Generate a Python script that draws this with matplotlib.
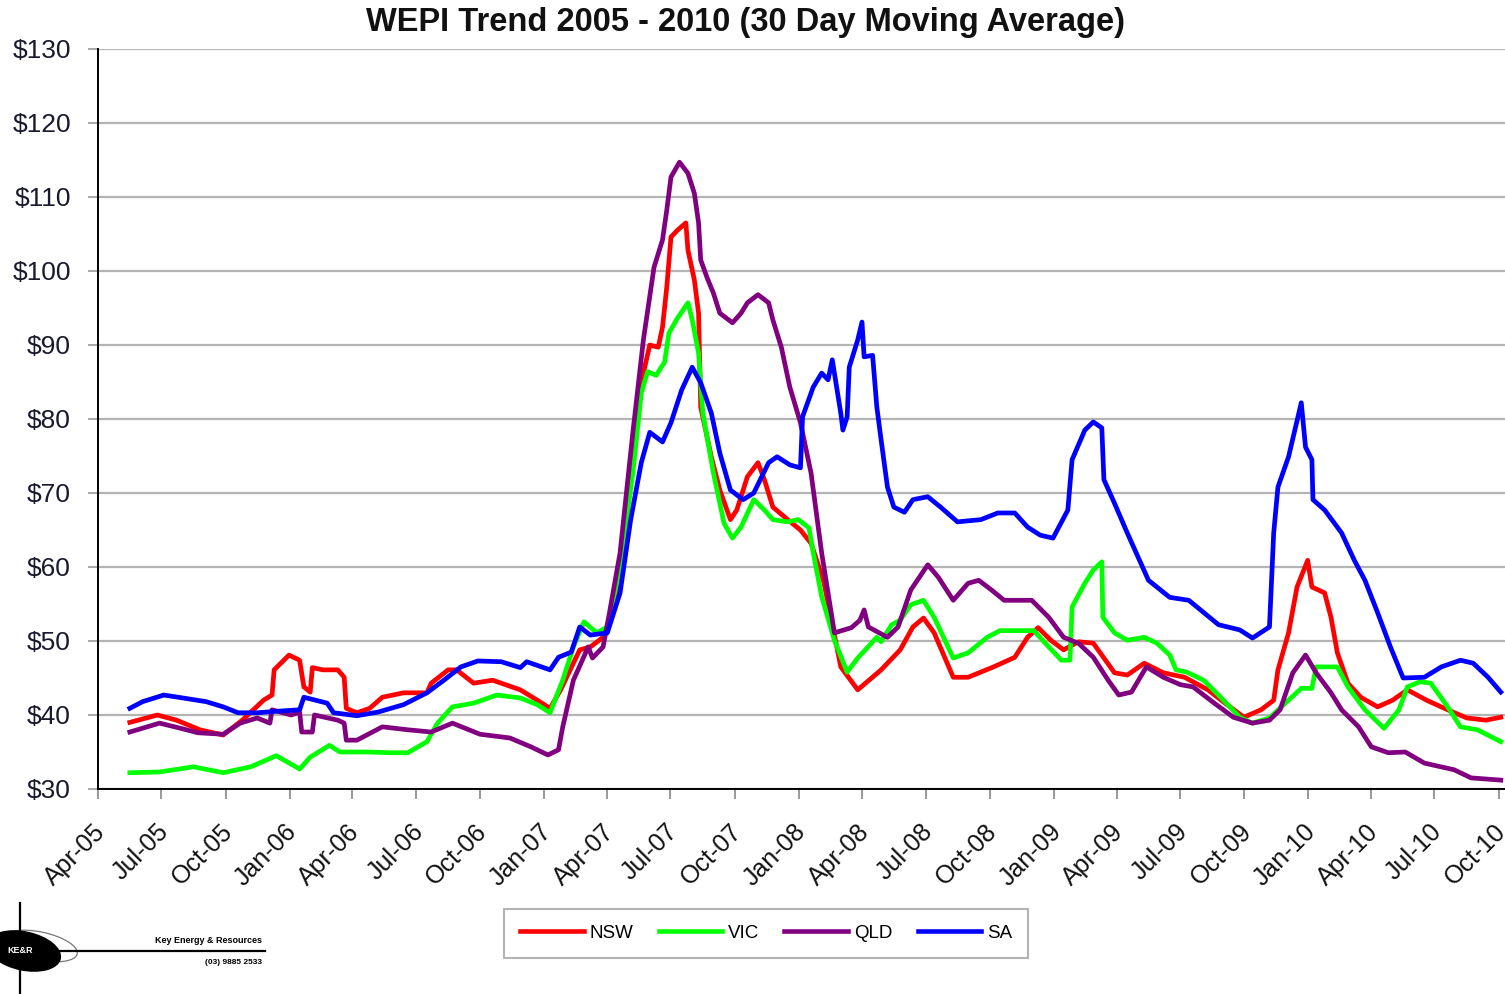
import pandas as pd
import matplotlib
matplotlib.use('Agg')
import matplotlib.pyplot as plt
import matplotlib.dates as mdates
import matplotlib.transforms as mtransforms
from matplotlib.patches import Ellipse
from matplotlib.lines import Line2D

plt.rcParams['font.family'] = ['Liberation Sans', 'DejaVu Sans']

# months after 1 Apr 2005 and 30 day moving average price ($/MWh)
nsw_m = [1.5, 2.8, 3.7, 4.8, 5.9, 6.8, 7.8, 8.2, 8.3, 9.0,
         9.5, 9.7, 10.0, 10.1, 10.6, 11.3, 11.6, 11.7, 12.2, 12.8,
         13.4, 14.4, 15.5, 15.7, 16.5, 16.9, 17.7, 18.6, 19.9, 20.7,
         21.3, 21.8, 22.7, 23.2, 23.8, 24.5, 25.0, 25.7, 26.0, 26.4,
         26.6, 26.8, 27.0, 27.3, 27.7, 27.8, 28.1, 28.3, 28.4, 28.9,
         29.3, 29.8, 30.1, 30.6, 31.1, 31.4, 31.8, 32.5, 33.1, 33.6,
         34.2, 35.0, 35.8, 36.9, 37.8, 38.4, 38.9, 39.4, 40.3, 41.0,
         42.2, 43.2, 43.8, 44.3, 44.9, 45.5, 46.2, 46.9, 47.9, 48.5,
         49.3, 50.2, 51.2, 52.3, 53.2, 54.0, 54.8, 55.4, 55.6, 56.1,
         56.5, 57.0, 57.2, 57.8, 58.1, 58.4, 58.9, 59.5, 60.3, 61.0,
         61.7, 62.6, 63.6, 64.5, 65.4, 66.1]
nsw_v = [39.0, 40.0, 39.3, 38.0, 37.3, 39.3, 42.0, 42.7, 46.1, 48.1,
         47.4, 43.8, 43.1, 46.4, 46.1, 46.1, 45.1, 40.9, 40.3, 40.9,
         42.4, 43.0, 43.0, 44.3, 46.1, 46.1, 44.3, 44.7, 43.4, 42.0,
         40.9, 43.4, 48.8, 49.2, 50.5, 56.0, 72.0, 86.2, 90.0, 89.7,
         92.4, 97.8, 104.6, 105.5, 106.5, 102.8, 98.8, 94.3, 81.6, 74.9,
         70.4, 66.4, 67.7, 72.2, 74.1, 71.8, 68.1, 66.4, 65.0, 63.2,
         58.0, 46.5, 43.4, 46.1, 48.8, 51.9, 53.1, 51.1, 45.1, 45.1,
         46.5, 47.8, 50.5, 51.8, 50.1, 48.8, 49.9, 49.7, 45.7, 45.4,
         47.0, 45.7, 45.1, 43.4, 41.4, 39.7, 40.7, 42.0, 46.1, 51.1,
         57.3, 60.9, 57.3, 56.5, 53.2, 48.4, 44.3, 42.4, 41.1, 42.0,
         43.4, 42.0, 40.7, 39.6, 39.3, 39.7]

vic_m = [1.5, 2.9, 4.5, 5.9, 7.2, 8.4, 9.5, 10.0, 10.9, 11.4,
         12.7, 13.8, 14.6, 15.5, 16.0, 16.7, 17.7, 18.8, 19.9, 20.7,
         21.3, 21.9, 22.4, 22.9, 23.5, 24.0, 24.6, 25.2, 25.6, 25.9,
         26.3, 26.7, 26.9, 27.3, 27.8, 28.0, 28.3, 28.5, 29.0, 29.5,
         29.9, 30.3, 30.9, 31.4, 31.8, 32.5, 33.0, 33.5, 33.7, 34.1,
         34.7, 35.3, 35.8, 36.7, 36.9, 37.4, 37.8, 38.3, 38.9, 39.4,
         40.3, 41.0, 41.9, 42.5, 44.1, 44.8, 45.4, 45.8, 45.9, 46.5,
         46.9, 47.3, 47.35, 47.9, 48.5, 49.3, 49.9, 50.5, 50.8, 51.3,
         52.1, 52.9, 53.8, 54.4, 55.2, 56.1, 56.7, 57.2, 57.4, 58.4,
         58.9, 59.7, 60.6, 61.3, 61.7, 62.3, 62.8, 63.6, 64.2, 65.0,
         66.1]
vic_v = [32.2, 32.3, 33.0, 32.2, 33.0, 34.5, 32.7, 34.3, 35.9, 35.0,
         35.0, 34.9, 34.9, 36.4, 38.9, 41.1, 41.6, 42.7, 42.3, 41.4,
         40.3, 44.7, 49.2, 52.6, 51.1, 51.9, 60.0, 72.7, 83.5, 86.4,
         85.9, 87.7, 91.6, 93.6, 95.7, 93.4, 88.9, 80.8, 72.7, 65.9,
         63.9, 65.4, 69.1, 67.7, 66.4, 66.1, 66.4, 65.3, 62.0, 56.0,
         50.1, 45.8, 47.7, 50.5, 49.9, 52.2, 52.8, 54.9, 55.5, 53.2,
         47.7, 48.4, 50.5, 51.4, 51.4, 49.2, 47.4, 47.4, 54.6, 57.8,
         59.6, 60.7, 53.2, 51.1, 50.1, 50.5, 49.7, 48.1, 46.1, 45.8,
         44.7, 42.4, 39.7, 38.9, 39.6, 42.0, 43.6, 43.6, 46.5, 46.5,
         43.8, 40.7, 38.2, 40.7, 43.8, 44.5, 44.3, 41.1, 38.4, 38.0,
         36.4]

qld_m = [1.5, 2.9, 3.9, 4.7, 5.9, 6.7, 7.5, 8.1, 8.2, 9.1,
         9.5, 9.6, 10.1, 10.2, 11.3, 11.6, 11.7, 12.2, 13.4, 14.6,
         15.7, 16.7, 18.0, 19.4, 20.4, 21.2, 21.7, 21.9, 22.4, 23.1,
         23.3, 23.8, 24.1, 24.6, 25.2, 25.7, 26.2, 26.6, 26.8, 27.0,
         27.4, 27.8, 28.1, 28.3, 28.4, 28.7, 29.0, 29.3, 29.9, 30.3,
         30.6, 31.1, 31.6, 31.8, 32.2, 32.6, 33.1, 33.6, 34.1, 34.7,
         35.5, 35.9, 36.1, 36.3, 37.2, 37.7, 38.3, 39.1, 39.6, 40.3,
         41.0, 41.5, 42.1, 42.7, 44.0, 44.8, 45.5, 46.2, 46.9, 47.6,
         48.1, 48.7, 49.4, 50.2, 51.0, 51.6, 52.6, 53.5, 54.4, 55.2,
         55.7, 56.3, 56.9, 57.4, 58.1, 58.6, 59.4, 60.0, 60.8, 61.6,
         62.5, 63.9, 64.7, 66.1]
qld_v = [37.7, 38.9, 38.2, 37.6, 37.4, 38.9, 39.6, 38.9, 40.7, 40.0,
         40.4, 37.7, 37.7, 40.0, 39.3, 38.9, 36.6, 36.6, 38.4, 38.0,
         37.7, 38.9, 37.4, 36.9, 35.7, 34.6, 35.3, 38.4, 44.7, 49.2,
         47.7, 49.2, 53.8, 61.9, 78.1, 90.7, 100.5, 104.2, 108.2, 112.7,
         114.7, 113.2, 110.5, 106.5, 101.5, 99.1, 97.0, 94.3, 93.0, 94.3,
         95.7, 96.8, 95.7, 93.4, 89.7, 84.3, 79.5, 72.7, 61.9, 51.1,
         51.8, 52.8, 54.2, 51.9, 50.5, 51.9, 56.9, 60.3, 58.6, 55.5,
         57.8, 58.2, 56.9, 55.5, 55.5, 53.2, 50.5, 49.7, 47.8, 44.7,
         42.7, 43.1, 46.5, 45.1, 44.1, 43.8, 41.6, 39.7, 38.9, 39.3,
         40.7, 45.7, 48.1, 45.7, 43.0, 40.7, 38.4, 35.7, 34.9, 35.0,
         33.5, 32.6, 31.5, 31.2]

sa_m = [1.5, 2.1, 3.1, 4.0, 5.1, 5.9, 6.6, 7.5, 8.4, 9.5,
        9.7, 10.8, 11.1, 12.2, 13.2, 14.4, 15.5, 16.3, 17.1, 17.9,
        19.0, 19.9, 20.2, 21.3, 21.7, 22.3, 22.7, 23.2, 24.0, 24.6,
        25.1, 25.6, 26.0, 26.6, 27.0, 27.5, 28.0, 28.4, 28.9, 29.3,
        29.8, 30.4, 30.9, 31.6, 32.0, 32.6, 33.1, 33.2, 33.7, 34.1,
        34.4, 34.6, 35.0, 35.1, 35.3, 35.4, 35.8, 36.0, 36.1, 36.5,
        36.7, 36.9, 37.2, 37.5, 38.0, 38.4, 39.1, 39.7, 40.5, 41.6,
        42.4, 43.2, 43.8, 44.4, 45.0, 45.7, 45.9, 46.5, 46.9, 47.3,
        47.4, 47.9, 48.5, 49.5, 50.5, 51.4, 52.8, 53.8, 54.4, 55.2,
        55.4, 55.6, 56.1, 56.7, 56.9, 57.2, 57.25, 57.8, 58.6, 59.2,
        59.7, 60.3, 60.9, 61.5, 62.5, 63.3, 64.2, 64.8, 65.5, 66.1]
sa_v = [40.9, 41.8, 42.7, 42.3, 41.8, 41.1, 40.3, 40.3, 40.5, 40.7,
        42.4, 41.6, 40.3, 39.9, 40.4, 41.4, 43.0, 44.7, 46.5, 47.3,
        47.2, 46.4, 47.2, 46.1, 47.8, 48.5, 51.9, 50.8, 51.1, 56.5,
        66.4, 74.1, 78.2, 76.9, 79.5, 83.9, 87.0, 84.9, 80.8, 75.4,
        70.4, 69.1, 70.0, 74.1, 74.9, 73.8, 73.4, 80.3, 84.3, 86.2,
        85.3, 88.0, 80.8, 78.5, 80.3, 87.0, 90.7, 93.1, 88.4, 88.6,
        81.6, 77.2, 70.8, 68.1, 67.4, 69.1, 69.5, 68.1, 66.1, 66.4,
        67.3, 67.3, 65.4, 64.3, 63.9, 67.7, 74.5, 78.5, 79.6, 78.8,
        71.8, 68.6, 64.6, 58.2, 55.9, 55.5, 52.2, 51.5, 50.4, 51.9,
        64.6, 70.8, 74.9, 82.2, 76.2, 74.5, 69.1, 67.7, 64.6, 60.9,
        58.2, 53.8, 49.2, 45.0, 45.1, 46.5, 47.4, 47.0, 45.1, 43.1]

regions = ['NSW', 'VIC', 'QLD', 'SA']
colors = ['#ff0000', '#00ff00', '#800080', '#0000ff']
series = [(nsw_m, nsw_v), (vic_m, vic_v), (qld_m, qld_v), (sa_m, sa_v)]

start = pd.Timestamp('2005-04-01')


def to_date(months):
	return [start + pd.Timedelta(days=m * 30.44) for m in months]


fig = plt.figure(figsize=(15.05, 9.94), dpi=100)
ax = fig.add_axes([98 / 1505, 1 - 789 / 994, 1 - 98 / 1505 + 0.001, 740 / 994])

for (m, v), c in zip(series, colors):
	ax.plot(to_date(m), v, color=c, lw=3.4, solid_joinstyle='round', zorder=3)

ax.set_ylim(30, 130)
ax.set_yticks(range(30, 131, 10))
ax.set_yticklabels(['$%d' % t for t in range(30, 131, 10)])
ax.set_xlim(start, to_date([66.37])[0])
ax.xaxis.set_major_locator(mdates.MonthLocator(bymonth=(1, 4, 7, 10)))
ax.xaxis.set_major_formatter(mdates.DateFormatter('%b-%y'))

ax.grid(axis='y', color='#b4b4b4', lw=1.6, zorder=1)
ax.spines['top'].set_visible(False)
ax.spines['right'].set_visible(False)
ax.spines['left'].set_linewidth(1.4)
ax.spines['bottom'].set_linewidth(1.4)
ax.tick_params(axis='y', length=7, width=1.2, color='#999999', pad=12.5,
			   labelsize=19, labelcolor='#1a1a2e')
ax.tick_params(axis='x', length=7, width=1.2, color='#888888', pad=15,
			   labelsize=18, labelcolor='#111111')
shift = mtransforms.ScaledTranslation(-5 / 100, 0, fig.dpi_scale_trans)
for lab in ax.get_xticklabels():
	lab.set_rotation(45)
	lab.set_ha('right')
	lab.set_va('top')
	lab.set_rotation_mode('anchor')
	lab.set_transform(lab.get_transform() + shift)

fig.text(746 / 1505, 1 - 22 / 994, 'WEPI Trend 2005 - 2010 (30 Day Moving Average)',
		 ha='center', va='center', fontsize=23.5, fontweight='bold', color='#111111')

# Legend
handles = [Line2D([], [], color=c, lw=3.3) for c in colors]
leg = fig.legend(handles, regions, loc='center', bbox_to_anchor=(766 / 1505, 1 - 933 / 994),
				 ncol=4, fontsize=13.5, frameon=True, fancybox=False, edgecolor='#a0a0a0',
				 handlelength=3.4, handletextpad=0.3, columnspacing=1.35, borderpad=0.85,
				 borderaxespad=0)
leg.get_frame().set_linewidth(1.5)

# Logo (drawn in image pixel units)
lg = fig.add_axes([0, 0, 280 / 1505, 104 / 994])
lg.set_xlim(0, 280)
lg.set_ylim(994, 890)
lg.axis('off')
lg.plot([20, 20], [903, 994], color='black', lw=1.6)
lg.add_patch(Ellipse((40, 946), 76, 28, angle=12, fill=False, ec='#777777', lw=0.9))
lg.add_patch(Ellipse((24, 951), 74, 38, angle=12, color='black'))
lg.plot([58, 265], [951, 951], color='black', lw=1.6)
lg.text(20, 951, 'KE&R', color='white', fontsize=6.5, fontweight='bold', ha='center', va='center')
lg.text(262, 941, 'Key Energy & Resources', fontsize=6.5, fontweight='bold', ha='right', va='center')
lg.text(262, 963, '(03) 9885 2533', fontsize=6, fontweight='bold', ha='right', va='center')

plt.savefig('out.png', dpi=100)
